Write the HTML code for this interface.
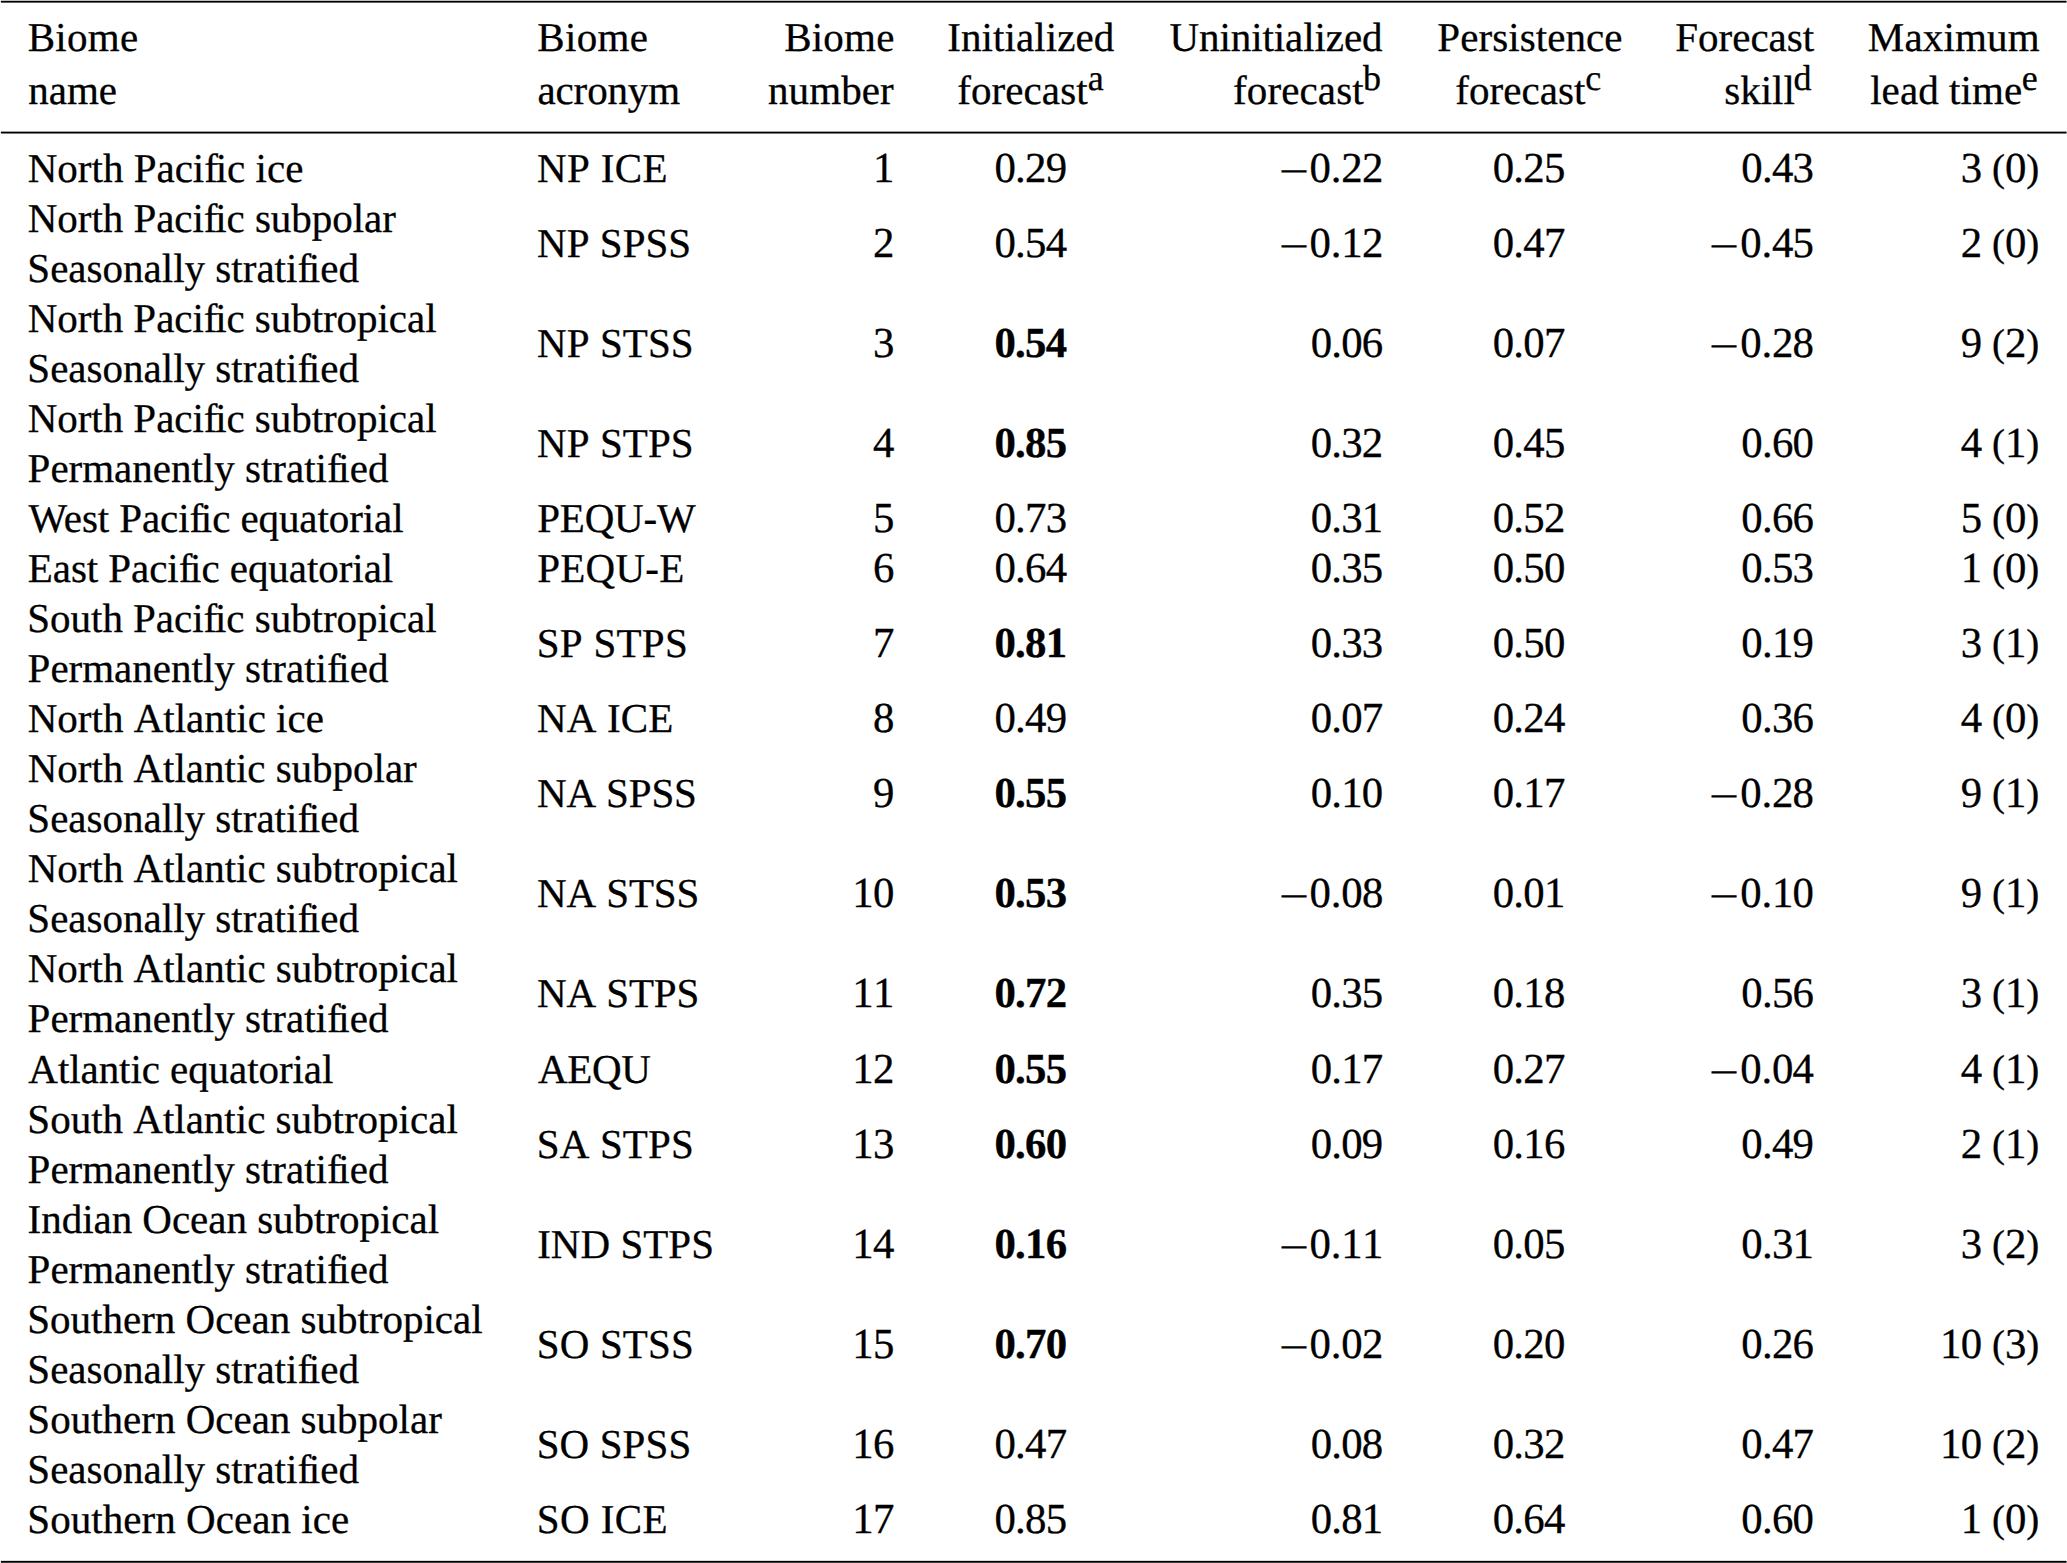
<!DOCTYPE html>
<html lang="en"><head><meta charset="utf-8"><title>Biome forecast skill table</title>
<style>
html,body{margin:0;padding:0;background:#fff;}
body{width:2067px;height:1563px;position:relative;overflow:hidden;
 font-family:"Liberation Serif","Times New Roman",Times,serif;font-size:41.0px;color:#000;
 text-rendering:geometricPrecision;font-kerning:none;-webkit-text-stroke:0.3px #000;}
.t{position:absolute;white-space:nowrap;line-height:0;height:0;}
.b{font-weight:bold;}
.n{font-size:42.8px;}
sup{font-size:36.0px;line-height:0;vertical-align:baseline;position:relative;top:-14.0px;letter-spacing:0;}
.m{display:inline-block;width:31.9px;text-align:center;letter-spacing:0;}
.m span{display:inline-block;-webkit-text-stroke:0;}
.p{margin:0 0.55px;}
.q{font-size:39px;position:relative;top:-1px;margin:0 0.7px;}
.f{margin-right:-2.24px;}
.w{margin-right:-3.28px;}
</style></head>
<body>
<svg width="2067" height="1563" viewBox="0 0 2067 1563" style="position:absolute;left:0;top:0" aria-hidden="true">
<rect x="0.85" y="0.75" width="2065.7" height="1.87" fill="#000"/>
<rect x="0.85" y="131.62" width="2065.7" height="1.9" fill="#000"/>
<rect x="0.85" y="1560.85" width="2065.7" height="1.92" fill="#000"/>
</svg>
<div role="table" aria-label="Forecast skill by ocean biome">
<div class="t" style="left:27.77px;top:36.9px;letter-spacing:0.256px"><span>Biome</span></div>
<div class="t" style="left:28.22px;top:89.9px;letter-spacing:-0.003px"><span>name</span></div>
<div class="t" style="left:537.37px;top:36.9px;letter-spacing:0.334px"><span>Biome</span></div>
<div class="t" style="left:537.49px;top:89.9px;letter-spacing:-0.134px"><span>acronym</span></div>
<div class="t" style="left:784.13px;top:36.9px;letter-spacing:0.233px"><span>Biome</span></div>
<div class="t" style="left:768.01px;top:89.9px;letter-spacing:0.080px"><span>number</span></div>
<div class="t" style="left:947.30px;top:36.9px;letter-spacing:0.068px"><span>Initialized</span></div>
<div class="t" style="left:957.27px;top:89.9px;letter-spacing:0.077px"><span>forecast</span><sup style="left:-0.03px">a</sup></div>
<div class="t" style="left:1169.57px;top:36.9px;letter-spacing:-0.088px"><span>Uninitialized</span></div>
<div class="t" style="left:1233.06px;top:89.9px;letter-spacing:0.120px"><span>forecast</span><sup style="left:-0.85px">b</sup></div>
<div class="t" style="left:1437.32px;top:36.9px;letter-spacing:0.068px"><span>Persistence</span></div>
<div class="t" style="left:1455.27px;top:89.9px;letter-spacing:0.048px"><span>forecast</span><sup style="left:-0.11px">c</sup></div>
<div class="t" style="left:1675.27px;top:36.9px"><span>Forecast</span></div>
<div class="t" style="left:1724.34px;top:89.9px;letter-spacing:-0.025px"><span>skill</span><sup style="left:-1.28px">d</sup></div>
<div class="t" style="left:1867.77px;top:36.9px;letter-spacing:0.173px"><span>Maximum</span></div>
<div class="t" style="left:1870.16px;top:89.9px;letter-spacing:0.066px"><span>lead time</span><sup style="left:-0.48px">e</sup></div>
<div class="t" style="left:27.75px;top:167.9px;letter-spacing:0.002px"><span>North Paci<span class="f">f</span>ic ice</span></div>
<div class="t" style="left:537.11px;top:167.9px;letter-spacing:0.360px"><span>NP ICE</span></div>
<div class="t n" style="left:872.89px;top:168.9px;letter-spacing:-0.750px"><span>1</span></div>
<div class="t n" style="left:994.47px;top:168.9px;letter-spacing:-0.750px"><span>0.29</span></div>
<div class="t n" style="left:1277.66px;top:168.9px;letter-spacing:-0.750px"><span><span class="m"><span style="transform:translateY(3.25px) scale(1.2613,0.9579)">−</span></span>0<span class="p">.</span>22</span></div>
<div class="t n" style="left:1492.67px;top:168.9px;letter-spacing:-0.750px"><span>0.25</span></div>
<div class="t n" style="left:1741.34px;top:168.9px;letter-spacing:-0.750px"><span>0.43</span></div>
<div class="t n" style="left:1960.73px;top:168.9px;letter-spacing:-0.750px"><span>3 <span class="q">(</span>0<span class="q">)</span></span></div>
<div class="t" style="left:27.75px;top:217.9px;letter-spacing:-0.042px"><span>North Paci<span class="f">f</span>ic subpolar</span></div>
<div class="t" style="left:27.33px;top:267.9px;letter-spacing:0.012px"><span>Seasonally strati<span class="f">f</span>ied</span></div>
<div class="t" style="left:537.11px;top:242.9px;letter-spacing:0.030px"><span>NP SPSS</span></div>
<div class="t n" style="left:872.89px;top:243.9px;letter-spacing:-0.750px"><span>2</span></div>
<div class="t n" style="left:994.47px;top:243.9px;letter-spacing:-0.750px"><span>0.54</span></div>
<div class="t n" style="left:1277.66px;top:243.9px;letter-spacing:-0.750px"><span><span class="m"><span style="transform:translateY(3.33px) scale(1.2613,0.9579)">−</span></span>0<span class="p">.</span>12</span></div>
<div class="t n" style="left:1492.67px;top:243.9px;letter-spacing:-0.750px"><span>0.47</span></div>
<div class="t n" style="left:1708.36px;top:243.9px;letter-spacing:-0.750px"><span><span class="m"><span style="transform:translateY(3.33px) scale(1.2613,0.9579)">−</span></span>0<span class="p">.</span>45</span></div>
<div class="t n" style="left:1960.73px;top:243.9px;letter-spacing:-0.750px"><span>2 <span class="q">(</span>0<span class="q">)</span></span></div>
<div class="t" style="left:27.75px;top:317.9px;letter-spacing:-0.047px"><span>North Paci<span class="f">f</span>ic subtropical</span></div>
<div class="t" style="left:27.33px;top:367.9px;letter-spacing:0.012px"><span>Seasonally strati<span class="f">f</span>ied</span></div>
<div class="t" style="left:537.11px;top:342.9px;letter-spacing:0.068px"><span>NP STSS</span></div>
<div class="t n" style="left:872.89px;top:343.9px;letter-spacing:-0.750px"><span>3</span></div>
<div class="t n b" style="left:994.47px;top:343.9px;letter-spacing:-0.750px"><span>0.54</span></div>
<div class="t n" style="left:1310.64px;top:343.9px;letter-spacing:-0.750px"><span>0.06</span></div>
<div class="t n" style="left:1492.67px;top:343.9px;letter-spacing:-0.750px"><span>0.07</span></div>
<div class="t n" style="left:1708.36px;top:343.9px;letter-spacing:-0.750px"><span><span class="m"><span style="transform:translateY(3.43px) scale(1.2613,0.9579)">−</span></span>0<span class="p">.</span>28</span></div>
<div class="t n" style="left:1960.73px;top:343.9px;letter-spacing:-0.750px"><span>9 <span class="q">(</span>2<span class="q">)</span></span></div>
<div class="t" style="left:27.75px;top:417.9px;letter-spacing:-0.047px"><span>North Paci<span class="f">f</span>ic subtropical</span></div>
<div class="t" style="left:27.61px;top:467.9px;letter-spacing:-0.008px"><span>Permanently strati<span class="f">f</span>ied</span></div>
<div class="t" style="left:537.11px;top:442.9px;letter-spacing:0.068px"><span>NP STPS</span></div>
<div class="t n" style="left:872.89px;top:443.9px;letter-spacing:-0.750px"><span>4</span></div>
<div class="t n b" style="left:994.47px;top:443.9px;letter-spacing:-0.750px"><span>0.85</span></div>
<div class="t n" style="left:1310.64px;top:443.9px;letter-spacing:-0.750px"><span>0.32</span></div>
<div class="t n" style="left:1492.67px;top:443.9px;letter-spacing:-0.750px"><span>0.45</span></div>
<div class="t n" style="left:1741.34px;top:443.9px;letter-spacing:-0.750px"><span>0.60</span></div>
<div class="t n" style="left:1960.73px;top:443.9px;letter-spacing:-0.750px"><span>4 <span class="q">(</span>1<span class="q">)</span></span></div>
<div class="t" style="left:28.41px;top:517.9px;letter-spacing:-0.085px"><span><span class="w">W</span>est Paci<span class="f">f</span>ic equatorial</span></div>
<div class="t" style="left:537.23px;top:517.9px;letter-spacing:-0.190px"><span>PEQU-W</span></div>
<div class="t n" style="left:872.89px;top:518.9px;letter-spacing:-0.750px"><span>5</span></div>
<div class="t n" style="left:994.47px;top:518.9px;letter-spacing:-0.750px"><span>0.73</span></div>
<div class="t n" style="left:1310.64px;top:518.9px;letter-spacing:-0.750px"><span>0.31</span></div>
<div class="t n" style="left:1492.67px;top:518.9px;letter-spacing:-0.750px"><span>0.52</span></div>
<div class="t n" style="left:1741.34px;top:518.9px;letter-spacing:-0.750px"><span>0.66</span></div>
<div class="t n" style="left:1960.73px;top:518.9px;letter-spacing:-0.750px"><span>5 <span class="q">(</span>0<span class="q">)</span></span></div>
<div class="t" style="left:27.75px;top:567.9px;letter-spacing:-0.055px"><span>East Paci<span class="f">f</span>ic equatorial</span></div>
<div class="t" style="left:537.23px;top:567.9px;letter-spacing:0.253px"><span>PEQU-E</span></div>
<div class="t n" style="left:872.89px;top:568.9px;letter-spacing:-0.750px"><span>6</span></div>
<div class="t n" style="left:994.47px;top:568.9px;letter-spacing:-0.750px"><span>0.64</span></div>
<div class="t n" style="left:1310.64px;top:568.9px;letter-spacing:-0.750px"><span>0.35</span></div>
<div class="t n" style="left:1492.67px;top:568.9px;letter-spacing:-0.750px"><span>0.50</span></div>
<div class="t n" style="left:1741.34px;top:568.9px;letter-spacing:-0.750px"><span>0.53</span></div>
<div class="t n" style="left:1960.73px;top:568.9px;letter-spacing:-0.750px"><span>1 <span class="q">(</span>0<span class="q">)</span></span></div>
<div class="t" style="left:27.33px;top:617.9px;letter-spacing:-0.030px"><span>South Paci<span class="f">f</span>ic subtropical</span></div>
<div class="t" style="left:27.61px;top:667.9px;letter-spacing:-0.008px"><span>Permanently strati<span class="f">f</span>ied</span></div>
<div class="t" style="left:536.69px;top:642.9px;letter-spacing:0.281px"><span>SP STPS</span></div>
<div class="t n" style="left:872.89px;top:643.9px;letter-spacing:-0.750px"><span>7</span></div>
<div class="t n b" style="left:994.47px;top:643.9px;letter-spacing:-0.750px"><span>0.81</span></div>
<div class="t n" style="left:1310.64px;top:643.9px;letter-spacing:-0.750px"><span>0.33</span></div>
<div class="t n" style="left:1492.67px;top:643.9px;letter-spacing:-0.750px"><span>0.50</span></div>
<div class="t n" style="left:1741.34px;top:643.9px;letter-spacing:-0.750px"><span>0.19</span></div>
<div class="t n" style="left:1960.73px;top:643.9px;letter-spacing:-0.750px"><span>3 <span class="q">(</span>1<span class="q">)</span></span></div>
<div class="t" style="left:27.75px;top:717.9px;letter-spacing:0.008px"><span>North Atlantic ice</span></div>
<div class="t" style="left:537.11px;top:717.9px;letter-spacing:0.154px"><span>NA ICE</span></div>
<div class="t n" style="left:872.89px;top:718.9px;letter-spacing:-0.750px"><span>8</span></div>
<div class="t n" style="left:994.47px;top:718.9px;letter-spacing:-0.750px"><span>0.49</span></div>
<div class="t n" style="left:1310.64px;top:718.9px;letter-spacing:-0.750px"><span>0.07</span></div>
<div class="t n" style="left:1492.67px;top:718.9px;letter-spacing:-0.750px"><span>0.24</span></div>
<div class="t n" style="left:1741.34px;top:718.9px;letter-spacing:-0.750px"><span>0.36</span></div>
<div class="t n" style="left:1960.73px;top:718.9px;letter-spacing:-0.750px"><span>4 <span class="q">(</span>0<span class="q">)</span></span></div>
<div class="t" style="left:27.75px;top:767.9px;letter-spacing:-0.020px"><span>North Atlantic subpolar</span></div>
<div class="t" style="left:27.33px;top:817.9px;letter-spacing:0.012px"><span>Seasonally strati<span class="f">f</span>ied</span></div>
<div class="t" style="left:537.11px;top:792.9px;letter-spacing:-0.155px"><span>NA SPSS</span></div>
<div class="t n" style="left:872.89px;top:793.9px;letter-spacing:-0.750px"><span>9</span></div>
<div class="t n b" style="left:994.47px;top:793.9px;letter-spacing:-0.750px"><span>0.55</span></div>
<div class="t n" style="left:1310.64px;top:793.9px;letter-spacing:-0.750px"><span>0.10</span></div>
<div class="t n" style="left:1492.67px;top:793.9px;letter-spacing:-0.750px"><span>0.17</span></div>
<div class="t n" style="left:1708.36px;top:793.9px;letter-spacing:-0.750px"><span><span class="m"><span style="transform:translateY(3.90px) scale(1.2613,0.9579)">−</span></span>0<span class="p">.</span>28</span></div>
<div class="t n" style="left:1960.73px;top:793.9px;letter-spacing:-0.750px"><span>9 <span class="q">(</span>1<span class="q">)</span></span></div>
<div class="t" style="left:27.75px;top:867.9px;letter-spacing:-0.007px"><span>North Atlantic subtropical</span></div>
<div class="t" style="left:27.33px;top:917.9px;letter-spacing:0.012px"><span>Seasonally strati<span class="f">f</span>ied</span></div>
<div class="t" style="left:537.11px;top:892.9px;letter-spacing:-0.120px"><span>NA STSS</span></div>
<div class="t n" style="left:852.25px;top:893.9px;letter-spacing:-0.750px"><span>10</span></div>
<div class="t n b" style="left:994.47px;top:893.9px;letter-spacing:-0.750px"><span>0.53</span></div>
<div class="t n" style="left:1277.66px;top:893.9px;letter-spacing:-0.750px"><span><span class="m"><span style="transform:translateY(4.00px) scale(1.2613,0.9579)">−</span></span>0<span class="p">.</span>08</span></div>
<div class="t n" style="left:1492.67px;top:893.9px;letter-spacing:-0.750px"><span>0.01</span></div>
<div class="t n" style="left:1708.36px;top:893.9px;letter-spacing:-0.750px"><span><span class="m"><span style="transform:translateY(4.00px) scale(1.2613,0.9579)">−</span></span>0<span class="p">.</span>10</span></div>
<div class="t n" style="left:1960.73px;top:893.9px;letter-spacing:-0.750px"><span>9 <span class="q">(</span>1<span class="q">)</span></span></div>
<div class="t" style="left:27.75px;top:967.9px;letter-spacing:-0.007px"><span>North Atlantic subtropical</span></div>
<div class="t" style="left:27.61px;top:1017.9px;letter-spacing:-0.008px"><span>Permanently strati<span class="f">f</span>ied</span></div>
<div class="t" style="left:537.11px;top:992.9px;letter-spacing:-0.120px"><span>NA STPS</span></div>
<div class="t n" style="left:852.25px;top:993.9px;letter-spacing:-0.750px"><span>11</span></div>
<div class="t n b" style="left:994.47px;top:993.9px;letter-spacing:-0.750px"><span>0.72</span></div>
<div class="t n" style="left:1310.64px;top:993.9px;letter-spacing:-0.750px"><span>0.35</span></div>
<div class="t n" style="left:1492.67px;top:993.9px;letter-spacing:-0.750px"><span>0.18</span></div>
<div class="t n" style="left:1741.34px;top:993.9px;letter-spacing:-0.750px"><span>0.56</span></div>
<div class="t n" style="left:1960.73px;top:993.9px;letter-spacing:-0.750px"><span>3 <span class="q">(</span>1<span class="q">)</span></span></div>
<div class="t" style="left:28.37px;top:1068.9px;letter-spacing:-0.070px"><span>Atlantic equatorial</span></div>
<div class="t" style="left:538.05px;top:1068.9px;letter-spacing:-0.329px"><span>AEQU</span></div>
<div class="t n" style="left:852.25px;top:1069.9px;letter-spacing:-0.750px"><span>12</span></div>
<div class="t n b" style="left:994.47px;top:1069.9px;letter-spacing:-0.750px"><span>0.55</span></div>
<div class="t n" style="left:1310.64px;top:1069.9px;letter-spacing:-0.750px"><span>0.17</span></div>
<div class="t n" style="left:1492.67px;top:1069.9px;letter-spacing:-0.750px"><span>0.27</span></div>
<div class="t n" style="left:1708.36px;top:1069.9px;letter-spacing:-0.750px"><span><span class="m"><span style="transform:translateY(3.19px) scale(1.2613,0.9579)">−</span></span>0<span class="p">.</span>04</span></div>
<div class="t n" style="left:1960.73px;top:1069.9px;letter-spacing:-0.750px"><span>4 <span class="q">(</span>1<span class="q">)</span></span></div>
<div class="t" style="left:27.33px;top:1118.9px;letter-spacing:0.001px"><span>South Atlantic subtropical</span></div>
<div class="t" style="left:27.61px;top:1168.9px;letter-spacing:-0.008px"><span>Permanently strati<span class="f">f</span>ied</span></div>
<div class="t" style="left:536.69px;top:1143.9px;letter-spacing:0.177px"><span>SA STPS</span></div>
<div class="t n" style="left:852.25px;top:1144.9px;letter-spacing:-0.750px"><span>13</span></div>
<div class="t n b" style="left:994.47px;top:1144.9px;letter-spacing:-0.750px"><span>0.60</span></div>
<div class="t n" style="left:1310.64px;top:1144.9px;letter-spacing:-0.750px"><span>0.09</span></div>
<div class="t n" style="left:1492.67px;top:1144.9px;letter-spacing:-0.750px"><span>0.16</span></div>
<div class="t n" style="left:1741.34px;top:1144.9px;letter-spacing:-0.750px"><span>0.49</span></div>
<div class="t n" style="left:1960.73px;top:1144.9px;letter-spacing:-0.750px"><span>2 <span class="q">(</span>1<span class="q">)</span></span></div>
<div class="t" style="left:27.58px;top:1218.9px;letter-spacing:-0.029px"><span>Indian Ocean subtropical</span></div>
<div class="t" style="left:27.61px;top:1268.9px;letter-spacing:-0.008px"><span>Permanently strati<span class="f">f</span>ied</span></div>
<div class="t" style="left:537.17px;top:1243.9px;letter-spacing:0.037px"><span>IND STPS</span></div>
<div class="t n" style="left:852.25px;top:1244.9px;letter-spacing:-0.750px"><span>14</span></div>
<div class="t n b" style="left:994.47px;top:1244.9px;letter-spacing:-0.750px"><span>0.16</span></div>
<div class="t n" style="left:1277.66px;top:1244.9px;letter-spacing:-0.750px"><span><span class="m"><span style="transform:translateY(3.37px) scale(1.2613,0.9579)">−</span></span>0<span class="p">.</span>11</span></div>
<div class="t n" style="left:1492.67px;top:1244.9px;letter-spacing:-0.750px"><span>0.05</span></div>
<div class="t n" style="left:1741.34px;top:1244.9px;letter-spacing:-0.750px"><span>0.31</span></div>
<div class="t n" style="left:1960.73px;top:1244.9px;letter-spacing:-0.750px"><span>3 <span class="q">(</span>2<span class="q">)</span></span></div>
<div class="t" style="left:27.33px;top:1318.9px;letter-spacing:-0.007px"><span>Southern Ocean subtropical</span></div>
<div class="t" style="left:27.33px;top:1368.9px;letter-spacing:0.012px"><span>Seasonally strati<span class="f">f</span>ied</span></div>
<div class="t" style="left:536.69px;top:1343.9px;letter-spacing:0.177px"><span>SO STSS</span></div>
<div class="t n" style="left:852.25px;top:1344.9px;letter-spacing:-0.750px"><span>15</span></div>
<div class="t n b" style="left:994.47px;top:1344.9px;letter-spacing:-0.750px"><span>0.70</span></div>
<div class="t n" style="left:1277.66px;top:1344.9px;letter-spacing:-0.750px"><span><span class="m"><span style="transform:translateY(3.47px) scale(1.2613,0.9579)">−</span></span>0<span class="p">.</span>02</span></div>
<div class="t n" style="left:1492.67px;top:1344.9px;letter-spacing:-0.750px"><span>0.20</span></div>
<div class="t n" style="left:1741.34px;top:1344.9px;letter-spacing:-0.750px"><span>0.26</span></div>
<div class="t n" style="left:1940.09px;top:1344.9px;letter-spacing:-0.750px"><span>10 <span class="q">(</span>3<span class="q">)</span></span></div>
<div class="t" style="left:27.33px;top:1418.9px;letter-spacing:0.003px"><span>Southern Ocean subpolar</span></div>
<div class="t" style="left:27.33px;top:1468.9px;letter-spacing:0.012px"><span>Seasonally strati<span class="f">f</span>ied</span></div>
<div class="t" style="left:536.69px;top:1443.9px;letter-spacing:0.110px"><span>SO SPSS</span></div>
<div class="t n" style="left:852.25px;top:1444.9px;letter-spacing:-0.750px"><span>16</span></div>
<div class="t n" style="left:994.47px;top:1444.9px;letter-spacing:-0.750px"><span>0.47</span></div>
<div class="t n" style="left:1310.64px;top:1444.9px;letter-spacing:-0.750px"><span>0.08</span></div>
<div class="t n" style="left:1492.67px;top:1444.9px;letter-spacing:-0.750px"><span>0.32</span></div>
<div class="t n" style="left:1741.34px;top:1444.9px;letter-spacing:-0.750px"><span>0.47</span></div>
<div class="t n" style="left:1940.09px;top:1444.9px;letter-spacing:-0.750px"><span>10 <span class="q">(</span>2<span class="q">)</span></span></div>
<div class="t" style="left:27.33px;top:1518.9px;letter-spacing:0.043px"><span>Southern Ocean ice</span></div>
<div class="t" style="left:536.69px;top:1518.9px;letter-spacing:0.455px"><span>SO ICE</span></div>
<div class="t n" style="left:852.25px;top:1519.9px;letter-spacing:-0.750px"><span>17</span></div>
<div class="t n" style="left:994.47px;top:1519.9px;letter-spacing:-0.750px"><span>0.85</span></div>
<div class="t n" style="left:1310.64px;top:1519.9px;letter-spacing:-0.750px"><span>0.81</span></div>
<div class="t n" style="left:1492.67px;top:1519.9px;letter-spacing:-0.750px"><span>0.64</span></div>
<div class="t n" style="left:1741.34px;top:1519.9px;letter-spacing:-0.750px"><span>0.60</span></div>
<div class="t n" style="left:1960.73px;top:1519.9px;letter-spacing:-0.750px"><span>1 <span class="q">(</span>0<span class="q">)</span></span></div>
</div>
</body></html>
